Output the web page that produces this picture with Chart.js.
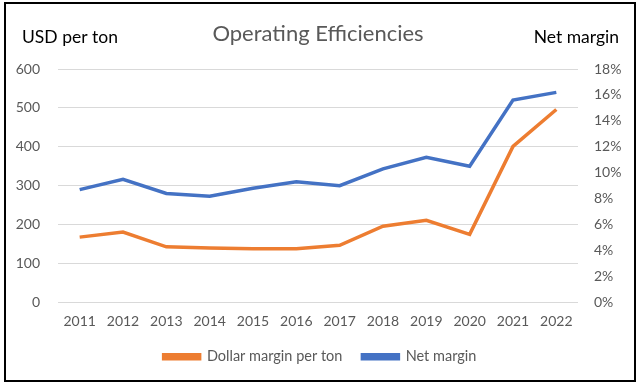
<!DOCTYPE html>
<html><head><meta charset="utf-8">
<script src="https://cdn.jsdelivr.net/npm/chart.js@4.4.0/dist/chart.umd.min.js"></script>
<style>html,body{margin:0;padding:0;background:#fff}</style>
</head><body>
<canvas id="c" width="640" height="386"></canvas>
<script>
const years = ['2011','2012','2013','2014','2015','2016','2017','2018','2019','2020','2021','2022'];
const dollarMarginPerTon = [168,181,143,140,138,138,147,196,211,175,401,496];
const netMarginPct = [8.7,9.5,8.4,8.2,8.8,9.3,9.0,10.3,11.2,10.5,15.6,16.2];
const leftAxis = {min:0, max:600, step:100};
const rightAxis = {min:0, max:18, step:2};
const titleText = 'Operating Efficiencies';
const leftAxisLabel = 'USD per ton';
const rightAxisLabel = 'Net margin';

const FONT = 'Lato';
const GREY = '#595959';

const decor = {
  id: 'decor',
  afterDraw(chart) {
    const ctx = chart.ctx;
    ctx.save();
    ctx.strokeStyle = '#000';
    ctx.lineWidth = 2;
    ctx.strokeRect(5, 3, 630, 378);
    ctx.textBaseline = 'middle';
    ctx.fillStyle = GREY;
    ctx.font = '22px ' + FONT;
    ctx.textAlign = 'center';
    ctx.fillText(titleText, 318, 34);
    ctx.fillStyle = '#000';
    ctx.font = '17.5px ' + FONT;
    ctx.textAlign = 'left';
    ctx.fillText(leftAxisLabel, 22, 37);
    ctx.textAlign = 'right';
    ctx.fillText(rightAxisLabel, 619, 37);
    ctx.restore();
  }
};

new Chart(document.getElementById('c'), {
  type: 'line',
  data: {
    labels: years,
    datasets: [
      {label: 'Dollar margin per ton', data: dollarMarginPerTon, yAxisID: 'y',
       borderColor: '#ED7D31', backgroundColor: '#ED7D31', borderWidth: 3.5,
       pointRadius: 0, tension: 0},
      {label: 'Net margin', data: netMarginPct, yAxisID: 'y1',
       borderColor: '#4472C4', backgroundColor: '#4472C4', borderWidth: 3.5,
       pointRadius: 0, tension: 0}
    ]
  },
  options: {
    responsive: false,
    animation: false,
    layout: {padding: {top: 69, bottom: 12, left: 0, right: 0}},
    plugins: {
      title: {display: false},
      tooltip: {enabled: false},
      legend: {
        position: 'bottom',
        labels: {boxWidth: 36, boxHeight: 4, padding: 20, color: GREY,
                 font: {family: FONT, size: 14.5}}
      }
    },
    scales: {
      x: {
        offset: true,
        grid: {display: false, drawTicks: false},
        border: {display: false},
        ticks: {color: GREY, font: {family: FONT, size: 14}, padding: 11, maxRotation: 0},
        afterFit(s) { s.height = 27; }
      },
      y: {
        position: 'left',
        min: leftAxis.min, max: leftAxis.max,
        ticks: {stepSize: leftAxis.step, color: GREY, font: {family: FONT, size: 14}, padding: 18},
        grid: {color: '#D9D9D9', lineWidth: 1, drawTicks: false},
        border: {display: false},
        afterFit(s) { s.width = 58; }
      },
      y1: {
        position: 'right',
        min: rightAxis.min, max: rightAxis.max,
        ticks: {stepSize: rightAxis.step, color: GREY, font: {family: FONT, size: 14}, padding: 16,
                callback: v => v + '%'},
        grid: {display: false, drawTicks: false},
        border: {display: false},
        afterFit(s) { s.width = 62; }
      }
    }
  },
  plugins: [decor]
});
</script>
</body></html>
